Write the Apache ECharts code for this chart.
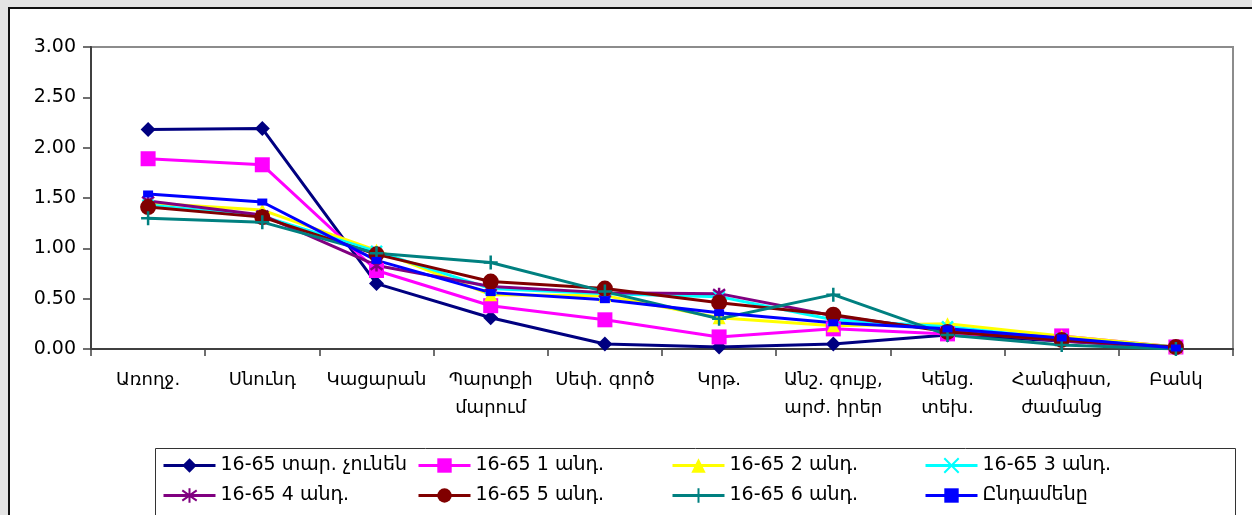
<!DOCTYPE html>
<html>
<head>
<meta charset="utf-8">
<script src="https://cdn.jsdelivr.net/npm/echarts@6/dist/echarts.min.js"></script>
<style>
  html, body { margin: 0; padding: 0; width: 1252px; height: 515px; overflow: hidden; background: #e4e4e4; }
  #frame { position: absolute; left: 8px; top: 7px; width: 1260px; height: 520px; background: #fff; border-left: 2px solid #111; border-top: 2px solid #111; }
  #chart { position: absolute; left: 0; top: 0; width: 1252px; height: 515px; }
</style>
</head>
<body>
<div id="frame"></div>
<div id="chart"></div>
<script>
// Expense categories (x axis)
const categories = ['Առողջ.', 'Սնունդ', 'Կացարան', 'Պարտքի\nմարում', 'Սեփ. գործ', 'Կրթ.', 'Անշ. գույք,\nարժ. իրեր', 'Կենց.\nտեխ.', 'Հանգիստ,\nժամանց', 'Բանկ'];

// Y axis ticks
const yMin = 0;
const yMax = 3;
const yStep = 0.5;

// Series names
const seriesNames = ['16-65 տար. չունեն', '16-65 1 անդ.', '16-65 2 անդ.', '16-65 3 անդ.', '16-65 4 անդ.', '16-65 5 անդ.', '16-65 6 անդ.', 'Ընդամենը'];

// Series values
const noMembers = [2.18, 2.19, 0.65, 0.31, 0.05, 0.02, 0.05, 0.14, 0.08, 0.01];
const oneMember = [1.89, 1.83, 0.78, 0.43, 0.29, 0.12, 0.20, 0.15, 0.13, 0.02];
const twoMembers = [1.45, 1.38, 0.98, 0.54, 0.53, 0.31, 0.23, 0.25, 0.13, 0.02];
const threeMembers = [1.43, 1.32, 0.97, 0.60, 0.55, 0.52, 0.29, 0.22, 0.10, 0.02];
const fourMembers = [1.47, 1.33, 0.83, 0.62, 0.56, 0.55, 0.33, 0.18, 0.08, 0.01];
const fiveMembers = [1.41, 1.31, 0.94, 0.67, 0.60, 0.46, 0.34, 0.17, 0.09, 0.02];
const sixMembers = [1.30, 1.26, 0.95, 0.86, 0.57, 0.30, 0.54, 0.14, 0.04, 0.00];
const totalAll = [1.54, 1.46, 0.88, 0.56, 0.49, 0.36, 0.26, 0.20, 0.11, 0.01];

const seriesValues = [noMembers, oneMember, twoMembers, threeMembers, fourMembers, fiveMembers, sixMembers, totalAll];

const FONT = 'DejaVu Sans, Liberation Sans, sans-serif';

// Marker styles: [color, symbol, size, stroked]
const styles = [
  ['#000080', 'diamond', 15, false],
  ['#ff00ff', 'rect', 15, false],
  ['#ffff00', 'triangle', 13, false],
  ['#00ffff', 'path://M0,0L10,10M10,0L0,10', 11, true],
  ['#800080', 'path://M0,0L10,10M10,0L0,10M5,-2L5,12', 12, true],
  ['#800000', 'circle', 16, false],
  ['#008080', 'path://M5,0L5,10M0,5L10,5', 14, true],
  ['#0000ff', 'rect', [10, 7], false]
];

const series = seriesNames.map((name, i) => {
  const [color, symbol, size, stroked] = styles[i];
  return {
    name: name,
    type: 'line',
    data: seriesValues[i],
    symbol: symbol,
    symbolSize: size,
    showAllSymbol: true,
    lineStyle: { color: color, width: 3 },
    itemStyle: stroked
      ? { color: color, borderColor: color, borderWidth: 2.5 }
      : { color: color, borderWidth: 0 },
    emphasis: { disabled: true },
    animation: false
  };
});

// One legend per entry so the four columns line up
const legendCols = [162, 417, 671, 924];
const legendRows = [456, 486];
const legends = seriesNames.map((name, i) => ({
  data: [name],
  left: legendCols[i % 4],
  top: legendRows[Math.floor(i / 4)],
  padding: 0,
  itemWidth: 52,
  itemHeight: 18,
  selectedMode: false,
  lineStyle: { width: 3 },
  textStyle: { color: '#000', fontSize: 19, fontFamily: FONT }
}));

const chart = echarts.init(document.getElementById('chart'), null, { renderer: 'canvas' });
chart.setOption({
  backgroundColor: 'transparent',
  animation: false,
  grid: {
    left: 91, top: 47, width: 1142, height: 302,
    show: true, borderColor: '#8c8c8c', borderWidth: 2, backgroundColor: 'transparent'
  },
  legend: legends,
  graphic: [{
    type: 'rect',
    shape: { x: 155.5, y: 448.5, width: 1080, height: 80 },
    style: { fill: 'none', stroke: '#333', lineWidth: 1 },
    z: 0
  }],
  xAxis: {
    type: 'category',
    data: categories,
    boundaryGap: true,
    axisLine: { lineStyle: { color: '#404040', width: 2 } },
    axisTick: { show: true, length: 7, lineStyle: { color: '#404040', width: 1.5 } },
    axisLabel: { color: '#000', fontSize: 18, fontFamily: FONT, margin: 17, lineHeight: 28, interval: 0 }
  },
  yAxis: {
    type: 'value',
    min: yMin, max: yMax, interval: yStep,
    splitLine: { show: false },
    axisLine: { show: true, lineStyle: { color: '#404040', width: 2 } },
    axisTick: { show: true, length: 8, lineStyle: { color: '#404040', width: 1.5 } },
    axisLabel: { color: '#000', fontSize: 19, fontFamily: FONT, margin: 15, formatter: v => v.toFixed(2) }
  },
  series: series
});
</script>
</body>
</html>
